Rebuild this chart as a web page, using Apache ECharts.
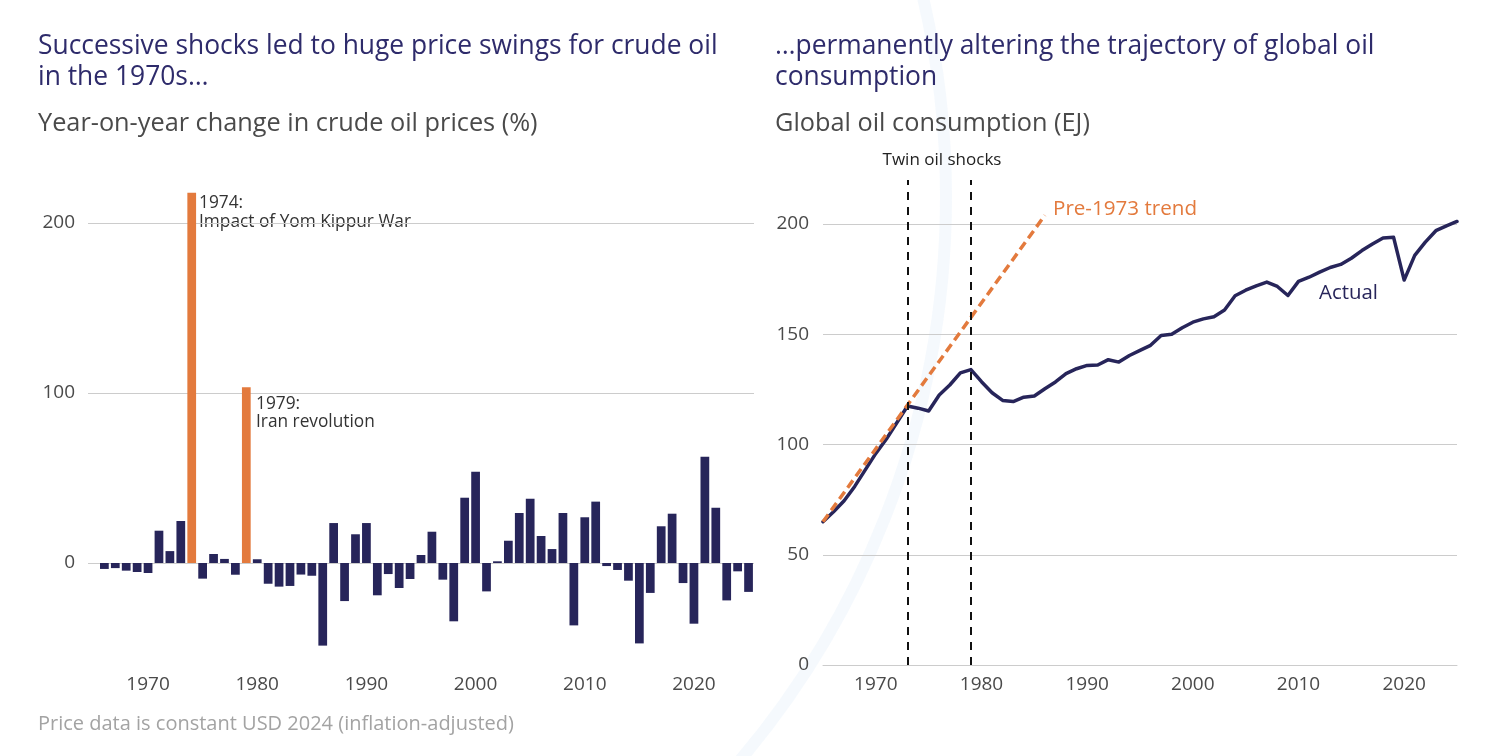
<!DOCTYPE html>
<html><head><meta charset="utf-8">
<script src="https://cdn.jsdelivr.net/npm/echarts@6/dist/echarts.min.js"></script>
<style>html,body{margin:0;padding:0;background:#fff}#c{width:1500px;height:756px}</style>
</head><body><div id="c"></div>
<script>
// ---- Left chart data: year-on-year change in crude oil prices (%) ----
const priceYears = [1965,1966,1967,1968,1969,1970,1971,1972,1973,1974,1975,1976,1977,1978,1979,
  1980,1981,1982,1983,1984,1985,1986,1987,1988,1989,1990,1991,1992,1993,1994,1995,1996,1997,1998,1999,
  2000,2001,2002,2003,2004,2005,2006,2007,2008,2009,2010,2011,2012,2013,2014,2015,2016,2017,2018,2019,
  2020,2021,2022,2023,2024,2025];
const priceChange = [null,-3.5,-3,-4.5,-5.3,-5.9,19,7,24.7,217.8,-9.2,5.3,2.4,-6.9,103.4,
  2.2,-12.2,-13.9,-13.5,-6.8,-7.5,-48.6,23.5,-22.4,16.9,23.5,-19,-6.5,-14.7,-9.4,4.7,18.4,-9.8,-34.3,38.4,
  53.7,-16.7,1,13.1,29.4,37.8,15.9,8.2,29.4,-36.7,26.9,36.1,-1.8,-4.1,-10.4,-47.3,-17.6,21.6,29,-11.8,
  -35.7,62.5,32.5,-22,-4.9,-17];
const highlightYears = [1974, 1979];
const leftYTicks = [0, 100, 200];
const xTickYears = [1970, 1980, 1990, 2000, 2010, 2020];

// ---- Right chart data: global oil consumption (EJ) ----
const consYears = [1965,1966,1967,1968,1969,1970,1971,1972,1973,1974,1975,1976,1977,1978,1979,
  1980,1981,1982,1983,1984,1985,1986,1987,1988,1989,1990,1991,1992,1993,1994,1995,1996,1997,1998,1999,
  2000,2001,2002,2003,2004,2005,2006,2007,2008,2009,2010,2011,2012,2013,2014,2015,2016,2017,2018,2019,
  2020,2021,2022,2023,2024,2025];
const consumption = [65,69.5,74.5,81,88.5,96,102.5,110,117.5,116.5,115.2,122.5,127,132.5,134,
  128.5,123.5,120,119.5,121.5,122,125.3,128.4,132.2,134.4,135.9,136.1,138.5,137.4,140.4,142.7,145,149.5,150,153,
  155.5,157,158,161,167.5,170,172,173.7,171.7,167.6,174,175.9,178.2,180.3,181.7,184.5,188,191,193.7,194,
  174.6,185.8,191.8,197,199.2,201.2];
const trendYears = [1965, 1986];
const trendValues = [65, 204];
const shockYears = [1973, 1979];
const rightYTicks = [0, 50, 100, 150, 200];

const NAVY = '#27255a', ORANGE = '#e37a3d', GRID = '#cccccc', TXT = '#4a4a4a';
const FONT = '"Open Sans", "Noto Sans", sans-serif';

const barData = priceChange.map((v, i) => ({
  value: v,
  itemStyle: { color: highlightYears.includes(priceYears[i]) ? ORANGE : NAVY }
}));
const lineData = consYears.map((y, i) => [y, consumption[i]]);
const trendData = trendYears.map((y, i) => [y, trendValues[i]]);

const chart = echarts.init(document.getElementById('c'), null, { renderer: 'canvas' });
const txt = (x, y, text, size, fill, extra) => Object.assign({
  type: 'text', x: x, y: y, silent: true,
  style: Object.assign({ text: text, fontSize: size, fill: fill, fontFamily: FONT, verticalAlign: 'middle', align: 'left' }, extra || {})
});
const tickLabel = { color: TXT, fontSize: 19, fontFamily: FONT };

chart.setOption({
  animation: false,
  backgroundColor: '#fff',
  textStyle: { fontFamily: FONT },
  grid: [
    { left: 88, top: 189, width: 666, height: 459 },
    { left: 823, top: 180, width: 634, height: 485 }
  ],
  xAxis: [
    { type: 'category', gridIndex: 0, data: priceYears, boundaryGap: true,
      axisLine: { show: false, onZero: false }, axisTick: { show: false }, splitLine: { show: false },
      axisLabel: Object.assign({ interval: (i, v) => xTickYears.includes(Number(v)), margin: 27 }, tickLabel) },
    { type: 'value', gridIndex: 1, min: 1965, max: 2025,
      axisLine: { show: true, onZero: false, lineStyle: { color: GRID, width: 1 } }, axisTick: { show: false }, splitLine: { show: false },
      axisLabel: Object.assign({ customValues: xTickYears, margin: 10, formatter: v => String(v) }, tickLabel) }
  ],
  yAxis: [
    { type: 'value', gridIndex: 0, min: -50, max: 220,
      axisLine: { show: false }, axisTick: { show: false }, splitLine: { show: false },
      axisLabel: Object.assign({ customValues: leftYTicks, margin: 13 }, tickLabel) },
    { type: 'value', gridIndex: 1, min: 0, max: 220,
      axisLine: { show: false }, axisTick: { show: false }, splitLine: { show: false },
      axisLabel: Object.assign({ customValues: rightYTicks, margin: 14 }, tickLabel) }
  ],
  series: [
    { type: 'bar', xAxisIndex: 0, yAxisIndex: 0, data: barData, barWidth: '80%', z: 3,
      markLine: { silent: true, symbol: 'none', z: 1, label: { show: false },
        lineStyle: { color: GRID, type: 'solid', width: 1 },
        data: leftYTicks.map(v => ({ yAxis: v })) } },
    { type: 'line', xAxisIndex: 1, yAxisIndex: 1, data: lineData, showSymbol: false, z: 3,
      lineStyle: { color: NAVY, width: 3.5, join: 'round', cap: 'round' },
      markLine: { silent: true, symbol: 'none', z: 1, label: { show: false },
        lineStyle: { color: GRID, type: 'solid', width: 1 },
        data: rightYTicks.filter(v => v > 0).map(v => ({ yAxis: v })) } },
    { type: 'line', xAxisIndex: 1, yAxisIndex: 1, data: trendData, showSymbol: false, z: 4,
      lineStyle: { color: ORANGE, width: 3.5, type: [9, 5] },
      markLine: { silent: true, symbol: 'none', z: 5, label: { show: false },
        lineStyle: { color: '#111', type: [8, 7], width: 2 },
        data: shockYears.map(y => ({ xAxis: y })) } }
  ],
  graphic: [
    { type: 'circle', silent: true, z: -10, shape: { cx: 73, cy: 197, r: 873 },
      style: { fill: 'none', stroke: 'rgba(222,236,250,0.3)', lineWidth: 12 } },
    txt(38, 46, 'Successive shocks led to huge price swings for crude oil', 26.4, '#2e2b6b'),
    txt(38, 77, 'in the 1970s…', 26.4, '#2e2b6b'),
    txt(38, 124, 'Year-on-year change in crude oil prices (%)', 25.3, '#4a4a4a'),
    txt(775, 46, '…permanently altering the trajectory of global oil', 26.4, '#2e2b6b'),
    txt(775, 77, 'consumption', 26.4, '#2e2b6b'),
    txt(775, 124, 'Global oil consumption (EJ)', 25.3, '#4a4a4a'),
    txt(199, 203, '1974:', 17.3, '#333'),
    txt(199, 222, 'Impact of Yom Kippur War', 17.3, '#333'),
    txt(256, 404, '1979:', 17.3, '#333'),
    txt(256, 422, 'Iran revolution', 17.3, '#333'),
    txt(942, 160, 'Twin oil shocks', 17, '#222', { align: 'center' }),
    txt(1053, 209, 'Pre-1973 trend', 20.6, ORANGE),
    txt(1319, 293, 'Actual', 20.4, NAVY),
    txt(38, 724, 'Price data is constant USD 2024 (inflation-adjusted)', 20, '#a3a3a3')
  ]
});
</script></body></html>
